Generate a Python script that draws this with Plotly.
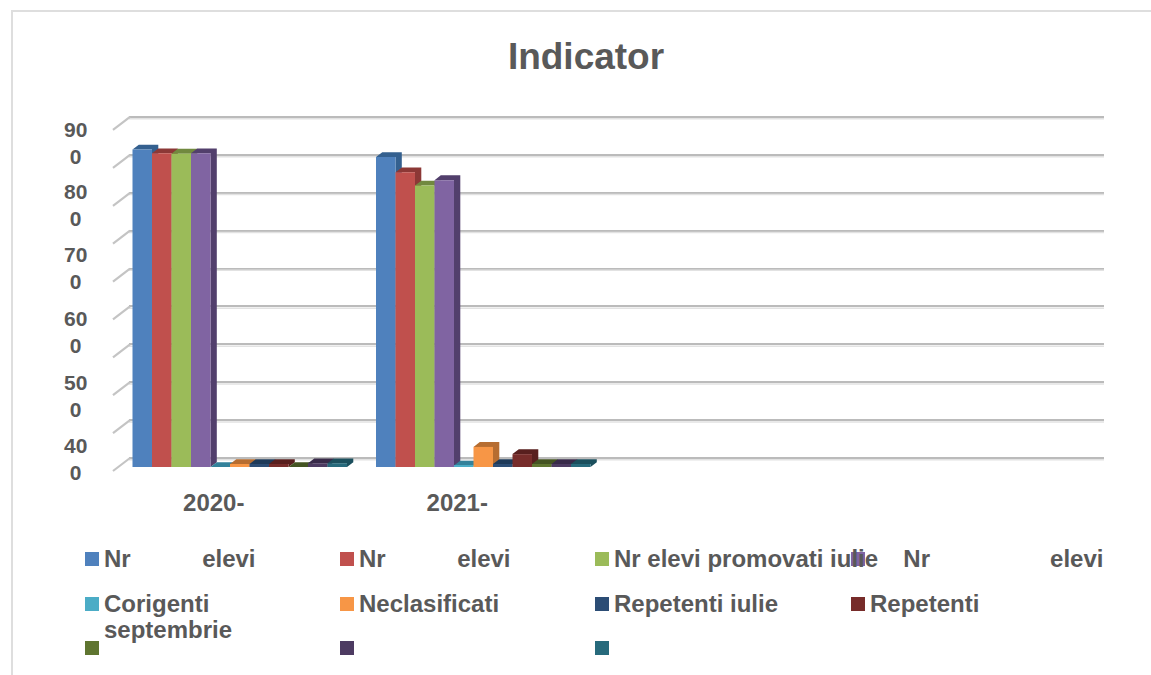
import plotly.graph_objects as go

W, H = 1151, 675

# ---------- data ----------
categories = ["2020-", "2021-"]
series_names = ["Nr elevi", "Nr elevi", "Nr elevi promovati iulie", "Nr elevi",
                "Corigenti septembrie", "Neclasificati", "Repetenti iulie", "Repetenti",
                " ", "  ", "   "]
nr_elevi_a = [838, 818]
nr_elevi_b = [828, 778]
nr_elevi_promovati = [827, 743]
nr_elevi_c = [828, 757]
corigenti = [0, 4]
neclasificati = [8, 53]
repetenti_iulie = [8, 8]
repetenti = [8, 34]
serie_9 = [0, 8]
serie_10 = [10, 8]
serie_11 = [10, 8]
values = [nr_elevi_a, nr_elevi_b, nr_elevi_promovati, nr_elevi_c, corigenti, neclasificati,
          repetenti_iulie, repetenti, serie_9, serie_10, serie_11]
front_colors = ["#4F81BD", "#C0504D", "#9BBB59", "#8064A2", "#4BACC6", "#F79646",
                "#2C4D75", "#772C2A", "#5F7530", "#4D3B62", "#276A7C"]
depth_colors = ["#34608F", "#8C3836", "#71893F", "#523F6C", "#33819A", "#B66D31",
                "#1E3A59", "#581F1E", "#445422", "#382A49", "#1B4F5D"]
grid_values = [0, 100, 200, 300, 400, 500, 600, 700, 800, 900]
y_label_text = ["90<br>0", "80<br>0", "70<br>0", "60<br>0", "50<br>0", "40<br>0"]
y_label_pos = [855, 691, 525, 356, 188, 21]
NB = "\u00a0"
legend_rows = [
    ["Nr" + NB * 10 + "\u2009" + "elevi", "Nr" + NB * 10 + "\u2009" + "elevi",
     "Nr elevi promovati iulie", NB * 5 + "Nr" + NB * 18 + "elevi"],
    ["Corigenti", "Neclasificati", "Repetenti iulie", "Repetenti"],
    ["", "", ""],
]
legend_wrapped_line = "septembrie"

# ---------- geometry ----------
FONT = "Liberation Sans"
TXT = "#595959"
PX_PER_CAT = 243.5
CENTER0 = 239.75          # pixel of the first group's centre
PX_PER_VAL = 0.3789
BACK_ZERO = 458
FRONT_ZERO = 467
TOP_PX, BOT_PX = 110, 475
BAR_PX = 19.5
DX = 6.3 / PX_PER_CAT
DY = 4.8 / PX_PER_VAL
n = len(values)
bw = BAR_PX / PX_PER_CAT

def px(x): return x / W
def py(y): return 1 - y / H
def cat(x): return (x - CENTER0) / PX_PER_CAT

fig = go.Figure()

# soft shadow under each back grid line
shadow_x, shadow_y = [], []
for v in grid_values:
    shadow_x += [cat(129), cat(1104), None]
    shadow_y += [v - 1.8 / PX_PER_VAL, v - 1.8 / PX_PER_VAL, None]
fig.add_trace(go.Scatter(x=shadow_x, y=shadow_y, mode="lines", line=dict(color="#E2E2E2", width=1.5),
                         hoverinfo="skip", showlegend=False, xaxis="x", yaxis="y"))

# left wall ticks
wall_x, wall_y = [], []
shift = (FRONT_ZERO - BACK_ZERO) / PX_PER_VAL
for v in grid_values:
    wall_x += [cat(130), cat(113), None]
    wall_y += [v + shift, v + shift - 13 / PX_PER_VAL, None]
fig.add_trace(go.Scatter(x=wall_x, y=wall_y, mode="lines", line=dict(color="#C4C4C4", width=2.2),
                         cliponaxis=False, hoverinfo="skip", showlegend=False, xaxis="x2", yaxis="y2"))

# depth faces
for s in range(n):
    xs, ys = [], []
    for c in range(len(categories)):
        xl = c - n * bw / 2 + s * bw
        xr = xl + bw
        h = values[s][c]
        xs += [xr, xr + DX, xr + DX, xr, xr, None, xl, xl + DX, xr + DX, xr, xl, None]
        ys += [0, DY, h + DY, h, 0, None, h, h + DY, h + DY, h, h, None]
    fig.add_trace(go.Scatter(x=xs, y=ys, mode="lines", fill="toself", fillcolor=depth_colors[s],
                             line=dict(width=0, color=depth_colors[s]), cliponaxis=False,
                             hoverinfo="skip", showlegend=False, xaxis="x2", yaxis="y2"))

# front faces
for s in range(n):
    fig.add_trace(go.Bar(x=list(range(len(categories))), y=values[s], name=series_names[s],
                         marker=dict(color=front_colors[s], line=dict(width=0)),
                         cliponaxis=False, showlegend=False, xaxis="x3", yaxis="y3"))

xrange_front = [cat(112), cat(1104)]
yr2 = [(FRONT_ZERO - BOT_PX) / PX_PER_VAL, (FRONT_ZERO - TOP_PX) / PX_PER_VAL]
dom_y = [py(BOT_PX), py(TOP_PX)]
dom_x = [px(112), px(1104)]

hidden = dict(visible=False)
fig.update_layout(
    width=W, height=H, autosize=False, margin=dict(l=0, r=0, t=0, b=0),
    paper_bgcolor="white", plot_bgcolor="rgba(0,0,0,0)",
    font=dict(family=FONT, color=TXT),
    barmode="group", bargap=1 - n * bw, bargroupgap=0, showlegend=False,
    title=dict(text="<b>Indicator</b>", font=dict(size=37, color=TXT, family=FONT),
               x=586 / W, xanchor="center", xref="paper", y=py(56), yanchor="middle"),
    xaxis=dict(domain=[px(129), px(1104)], range=[cat(129), cat(1104)], visible=False, anchor="y"),
    yaxis=dict(domain=dom_y, range=[(BACK_ZERO - BOT_PX) / PX_PER_VAL, (BACK_ZERO - TOP_PX) / PX_PER_VAL],
               tickmode="array", tickvals=grid_values, ticktext=[""] * len(grid_values), showgrid=True,
               gridcolor="#BBBBBB", gridwidth=2, zeroline=False, showline=False, ticks="", anchor="x"),
    xaxis2=dict(domain=dom_x, range=xrange_front, anchor="y2", tickmode="array",
                tickvals=[i - 26 / PX_PER_CAT for i in range(len(categories))],
                ticktext=["<b>%s</b>" % c for c in categories],
                tickfont=dict(size=24, color=TXT, family=FONT), ticks="outside", ticklen=6,
                tickcolor="rgba(0,0,0,0)", showgrid=False, zeroline=False, showline=False),
    yaxis2=dict(domain=dom_y, range=yr2, anchor="x2", **hidden),
    xaxis3=dict(domain=dom_x, range=xrange_front, anchor="y3", **hidden),
    yaxis3=dict(domain=dom_y, range=yr2, anchor="x3", **hidden),
)

# card border
fig.add_shape(type="path", xref="paper", yref="paper", layer="below",
              path=f"M {px(12)} {py(675)} L {px(12)} {py(11)} L {px(1151)} {py(11)}",
              line=dict(color="#DEDEDE", width=2))

# y-axis labels
for t, v in zip(y_label_text, y_label_pos):
    fig.add_annotation(text="<b>%s</b>" % t, xref="paper", yref="y2", x=px(75.5), y=v, showarrow=False,
                       xanchor="center", yanchor="middle", align="center",
                       font=dict(size=21, color=TXT, family=FONT))

# legend
col_x = [85, 340, 595, 851]
row_y = [559, 604, 648]
LEG = dict(size=24, color=TXT, family=FONT)
TEXT_GAP = 16.5
idx = 0
for r, row in enumerate(legend_rows):
    for c, label in enumerate(row):
        x0, yc = col_x[c], row_y[r]
        fig.add_shape(type="rect", xref="paper", yref="paper", x0=px(x0), x1=px(x0 + 14),
                      y0=py(yc - 7), y1=py(yc + 7), fillcolor=front_colors[idx], line=dict(width=0))
        if label:
            fig.add_annotation(text="<b>%s</b>" % label, xref="paper", yref="paper", x=px(x0 + TEXT_GAP),
                               y=py(yc - 1), showarrow=False, xanchor="left", yanchor="middle",
                               align="left", font=LEG)
        idx += 1
fig.add_annotation(text="<b>%s</b>" % legend_wrapped_line, xref="paper", yref="paper", x=px(col_x[0] + TEXT_GAP),
                   y=py(row_y[1] + 25), showarrow=False, xanchor="left", yanchor="middle", font=LEG)

fig.write_html("out.html", config=dict(displayModeBar=False),
               post_script="document.body.style.margin='0';")
